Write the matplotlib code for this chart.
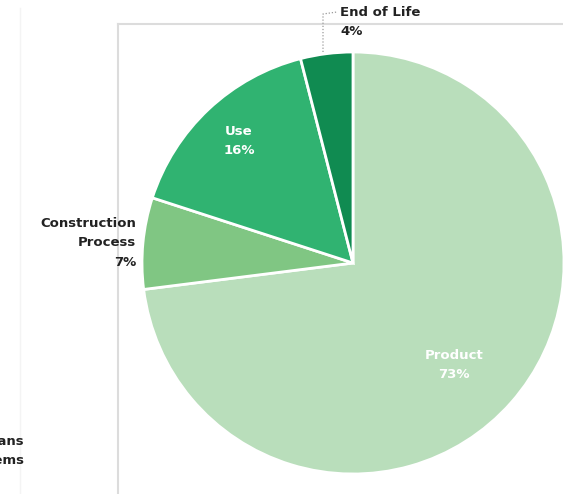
import matplotlib.pyplot as plt
import numpy as np

# Lebenszyklusphasen und Anteile (%)
phasen = ['Product', 'Construction\nProcess', 'Use', 'End of Life']
anteile = [73, 7, 16, 4]
farben = ['#b9debb', '#80c683', '#30b371', '#108b51']

W, H = 563, 494
fig = plt.figure(figsize=(W / 100, H / 100), dpi=100)
ax = fig.add_axes([0, 0, 1, 1])
ax.axis('off')

cx, cy, r = 353, H - 263, 211
wedges, _ = ax.pie(anteile, colors=farben, startangle=90, counterclock=False,
                   center=(cx, cy), radius=r, frame=False,
                   wedgeprops=dict(edgecolor='white', linewidth=2))
ax.set_xlim(0, W)
ax.set_ylim(0, H)
ax.set_aspect('equal')

# grauer Rahmen
ax.plot([117.5, 117.5], [0, H - 24], color='#dcdcdc', lw=1.5, zorder=0)
ax.plot([117.5, W], [H - 24, H - 24], color='#dcdcdc', lw=1.5, zorder=0)
ax.plot([20, 20], [0, H - 8], color='#f4f4f4', lw=1, zorder=0)

schrift = dict(fontfamily='DejaVu Sans', fontweight='bold', fontsize=9.5)


def mitte(w, d, dw=0.0):
    a = np.deg2rad((w.theta1 + w.theta2) / 2 + dw)
    return cx + d * r * np.cos(a), cy + d * r * np.sin(a)


# Beschriftungen innerhalb der Segmente
x, y = mitte(wedges[0], 0.68, -4)
ax.text(x, y, f'{phasen[0]}\n{anteile[0]}%', color='white', ha='center',
        va='center', linespacing=1.6, **schrift)
x, y = mitte(wedges[2], 0.79)
ax.text(x, y, f'{phasen[2]}\n{anteile[2]}%', color='white', ha='center',
        va='center', linespacing=1.6, **schrift)

# Beschriftungen außerhalb
ax.text(136, H - 243, f'{phasen[1]}\n{anteile[1]}%', color='#222222', ha='right',
        va='center', linespacing=1.65, **schrift)
ax.text(340, H - 22, f'{phasen[3]}\n{anteile[3]}%', color='#222222', ha='left',
        va='center', linespacing=1.65, **schrift)
ax.plot([323, 323, 337], [H - 52, H - 14, H - 12], color='#999999', lw=0.9,
        ls=(0, (1, 1.5)))

# abgeschnittene Legende links
ax.text(24, H - 451, 'Plans\nSystems', color='#222222', ha='right', va='center',
        linespacing=1.6, **schrift)

fig.savefig('out.png', dpi=100)
